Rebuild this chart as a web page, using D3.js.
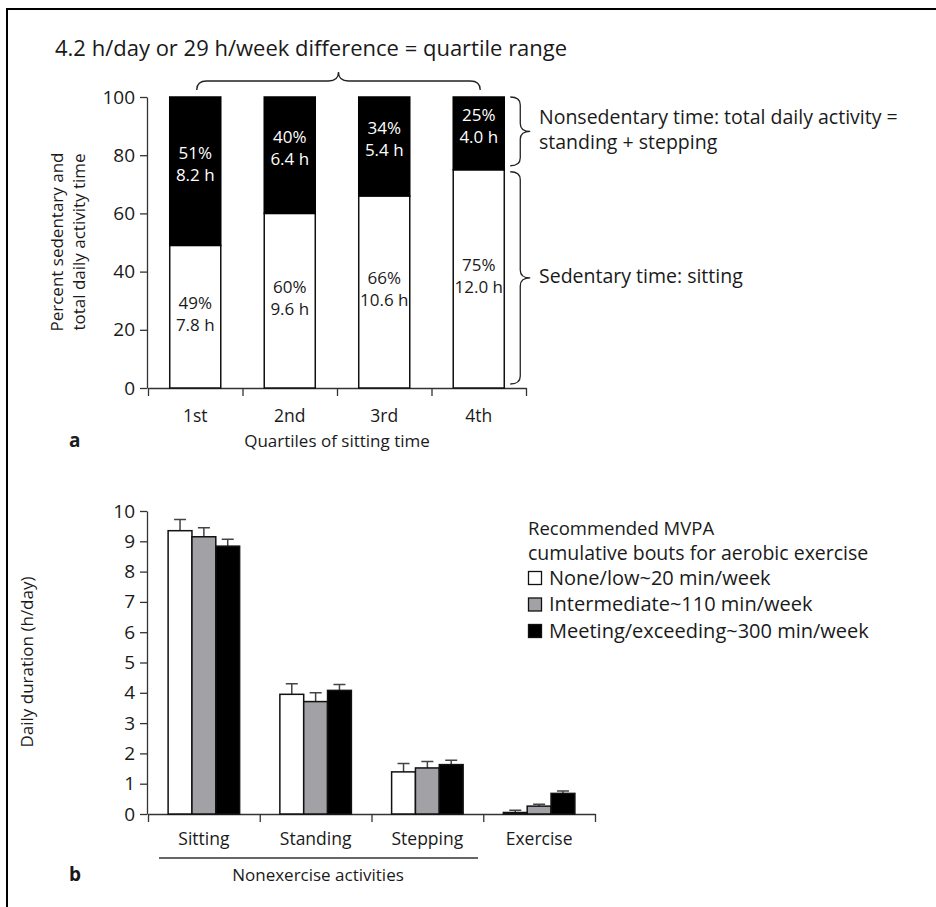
<!DOCTYPE html>
<html>
<head>
<meta charset="utf-8">
<script src="https://cdn.jsdelivr.net/npm/d3@7"></script>
<style>
  body { margin: 0; background: #fff; }
  svg text { font-family: "Open Sans", "Noto Sans", sans-serif; fill: #1a1a1a; }
</style>
</head>
<body>
<div id="chart"></div>
<script>
// panel a data
let quartiles = ["1st", "2nd", "3rd", "4th"];
let sittingPct = [49, 60, 66, 75];
let nonsedPct = [51, 40, 34, 25];
let sittingHours = ["7.8 h", "9.6 h", "10.6 h", "12.0 h"];
let nonsedHours = ["8.2 h", "6.4 h", "5.4 h", "4.0 h"];
let pctTicks = [0, 20, 40, 60, 80, 100];

// panel b data
let activities = ["Sitting", "Standing", "Stepping", "Exercise"];
let groups = ["None/low~20 min/week", "Intermediate~110 min/week", "Meeting/exceeding~300 min/week"];
let noneLow = [9.35, 3.95, 1.39, 0.05];
let intermediate = [9.15, 3.71, 1.52, 0.26];
let meeting = [8.84, 4.08, 1.63, 0.68];
let noneLowErr = [0.37, 0.35, 0.28, 0.07];
let intermediateErr = [0.30, 0.29, 0.21, 0.06];
let meetingErr = [0.23, 0.19, 0.14, 0.08];
let hourTicks = [0, 1, 2, 3, 4, 5, 6, 7, 8, 9, 10];

let fills = ["#ffffff", "#a2a2a6", "#000000"];
let fs = 17;      // axis/category text
let fsTick = 19;  // tick numbers
let fsNote = 19.5; // annotations, legend

let width = 936, height = 907;
let svg = d3.select("#chart").append("svg")
    .attr("width", width)
    .attr("height", height);

// frame (top + left edges only)
svg.append("path")
    .attr("d", "M7," + height + " L7,9 L" + width + ",9")
    .attr("fill", "none").attr("stroke", "#000").attr("stroke-width", 2);

// horizontal brace, tip up
function braceUp(x1, x2, yEnd, h) {
    let m = (x1 + x2) / 2, yl = yEnd - h / 2, yt = yEnd - h, r = 10;
    return `M${x1},${yEnd} Q${x1},${yl} ${x1 + r},${yl} L${m - r},${yl} Q${m},${yl} ${m},${yt}` +
        ` Q${m},${yl} ${m + r},${yl} L${x2 - r},${yl} Q${x2},${yl} ${x2},${yEnd}`;
}
// vertical brace, tip pointing right
function braceRight(y1, y2, xEnd, w) {
    let m = (y1 + y2) / 2, xl = xEnd + w / 2, xt = xEnd + w, r = 8;
    return `M${xEnd},${y1} Q${xl},${y1} ${xl},${y1 + r} L${xl},${m - r} Q${xl},${m} ${xt},${m}` +
        ` Q${xl},${m} ${xl},${m + r} L${xl},${y2 - r} Q${xl},${y2} ${xEnd},${y2}`;
}

/* ---------- panel a ---------- */
let yA = d3.scaleLinear().domain([0, 100]).range([388, 97]);
let xA = d3.scaleBand().domain(quartiles).range([148, 526]).paddingInner(0.46).paddingOuter(0.23);
let xATicks = d3.scaleLinear().domain([0, 4]).range([148, 526]);

let gA = svg.append("g");

gA.append("g")
    .attr("transform", "translate(147,0)")
    .call(d3.axisLeft(yA).tickValues(pctTicks).tickSize(7).tickSizeOuter(0))
    .call(g => g.selectAll("text").attr("font-size", fsTick).attr("font-family", null).attr("dx", "-2"))
    .call(g => g.selectAll("line,path").attr("stroke", "#333").attr("stroke-width", 1.3));

gA.append("g")
    .attr("transform", "translate(0,388)")
    .call(d3.axisBottom(xATicks).ticks(4).tickSize(8).tickSizeOuter(0).tickFormat(""))
    .call(g => g.selectAll("line,path").attr("stroke", "#333").attr("stroke-width", 1.3));

// sitting (white) segments
gA.selectAll(".sit").data(quartiles).enter().append("rect")
    .attr("x", d => xA(d))
    .attr("y", (d, i) => yA(sittingPct[i]))
    .attr("width", xA.bandwidth())
    .attr("height", (d, i) => yA(0) - yA(sittingPct[i]))
    .attr("fill", "#fff").attr("stroke", "#111").attr("stroke-width", 1.5);

// nonsedentary (black) segments
gA.selectAll(".non").data(quartiles).enter().append("rect")
    .attr("x", d => xA(d))
    .attr("y", yA(100))
    .attr("width", xA.bandwidth())
    .attr("height", (d, i) => yA(sittingPct[i]) - yA(100))
    .attr("fill", "#000").attr("stroke", "#000").attr("stroke-width", 1.5);

quartiles.forEach((q, i) => {
    let cx = xA(q) + xA.bandwidth() / 2;
    let cNon = (yA(100) + yA(sittingPct[i])) / 2 - 7;
    let cSit = (yA(sittingPct[i]) + yA(0)) / 2 - 3;
    [[nonsedPct[i] + "%", nonsedHours[i], cNon, "#fff"], [sittingPct[i] + "%", sittingHours[i], cSit, "#1a1a1a"]]
        .forEach(([l1, l2, cy, col]) => {
            gA.append("text").attr("x", cx).attr("y", cy - 5).attr("text-anchor", "middle")
                .attr("font-size", fs).style("fill", col).text(l1);
            gA.append("text").attr("x", cx).attr("y", cy + 17).attr("text-anchor", "middle")
                .attr("font-size", fs).style("fill", col).text(l2);
        });
    gA.append("text").attr("x", cx).attr("y", 422).attr("text-anchor", "middle")
        .attr("font-size", fs + 0.5).text(q);
});

gA.append("text").attr("x", 337).attr("y", 447).attr("text-anchor", "middle")
    .attr("font-size", fs).text("Quartiles of sitting time");
gA.append("text").attr("x", 69).attr("y", 447).attr("font-size", fs + 2)
    .attr("font-weight", "bold").text("a");

let labA = gA.append("text").attr("transform", "translate(68,242) rotate(-90)")
    .attr("text-anchor", "middle").attr("font-size", fs);
labA.append("tspan").attr("x", 0).attr("y", -5).text("Percent sedentary and");
labA.append("tspan").attr("x", 0).attr("y", 17).text("total daily activity time");

gA.append("text").attr("x", 55).attr("y", 56).attr("font-size", 22)
    .text("4.2 h/day or 29 h/week difference = quartile range");

gA.append("path").attr("d", braceUp(xA("1st") + 27, xA("4th") + 27, 90, 18))
    .attr("fill", "none").attr("stroke", "#222").attr("stroke-width", 1.3);

let braceX = xA("4th") + xA.bandwidth() + 6;
gA.append("path").attr("d", braceRight(yA(100), yA(sittingPct[3]) - 4, braceX, 20))
    .attr("fill", "none").attr("stroke", "#222").attr("stroke-width", 1.3);
gA.append("path").attr("d", braceRight(yA(sittingPct[3]) + 2, yA(0) - 4, braceX, 20))
    .attr("fill", "none").attr("stroke", "#222").attr("stroke-width", 1.3);

gA.append("text").attr("x", 539).attr("y", 124).attr("font-size", fsNote)
    .text("Nonsedentary time: total daily activity =");
gA.append("text").attr("x", 539).attr("y", 149).attr("font-size", fsNote)
    .text("standing + stepping");
gA.append("text").attr("x", 539).attr("y", 283).attr("font-size", fsNote).text("Sedentary time: sitting");

/* ---------- panel b ---------- */
let yB = d3.scaleLinear().domain([0, 10]).range([814, 511]);
let xB = d3.scaleBand().domain(activities).range([148, 595]).paddingInner(0.36).paddingOuter(0.18);
let xBTicks = d3.scaleLinear().domain([0, 4]).range([148, 595]);
let xSub = d3.scaleBand().domain(groups).range([0, xB.bandwidth()]);

let series = [noneLow, intermediate, meeting];
let errs = [noneLowErr, intermediateErr, meetingErr];

let gB = svg.append("g");

gB.append("g")
    .attr("transform", "translate(147,0)")
    .call(d3.axisLeft(yB).tickValues(hourTicks).tickSize(7).tickSizeOuter(0))
    .call(g => g.selectAll("text").attr("font-size", fsTick).attr("font-family", null).attr("dx", "-2"))
    .call(g => g.selectAll("line,path").attr("stroke", "#333").attr("stroke-width", 1.3));

gB.append("g")
    .attr("transform", "translate(0,814)")
    .call(d3.axisBottom(xBTicks).ticks(4).tickSize(8).tickSizeOuter(0).tickFormat(""))
    .call(g => g.selectAll("line,path").attr("stroke", "#333").attr("stroke-width", 1.3));

groups.forEach((grp, k) => {
    let vals = series[k], err = errs[k];
    let bx = (d) => xB(d) + xSub(grp);
    // error bars (upper only)
    gB.selectAll(".err" + k).data(activities).enter().append("path")
        .attr("d", (d, i) => {
            let cx = bx(d) + xSub.bandwidth() / 2;
            return `M${cx},${yB(vals[i])} L${cx},${yB(vals[i] + err[i])} M${cx - 6},${yB(vals[i] + err[i])} L${cx + 6},${yB(vals[i] + err[i])}`;
        })
        .attr("fill", "none").attr("stroke", "#444").attr("stroke-width", 1.5);
    gB.selectAll(".bar" + k).data(activities).enter().append("rect")
        .attr("x", d => bx(d))
        .attr("y", (d, i) => yB(vals[i]))
        .attr("width", xSub.bandwidth())
        .attr("height", (d, i) => yB(0) - yB(vals[i]))
        .attr("fill", fills[k]).attr("stroke", "#111").attr("stroke-width", 1.5);
});

activities.forEach(a => {
    gB.append("text").attr("x", xB(a) + xB.bandwidth() / 2).attr("y", 845)
        .attr("text-anchor", "middle").attr("font-size", fs + 0.5).text(a);
});

gB.append("line").attr("x1", 159).attr("x2", 478).attr("y1", 858).attr("y2", 858)
    .attr("stroke", "#333").attr("stroke-width", 1.3);
gB.append("text").attr("x", 318).attr("y", 881).attr("text-anchor", "middle")
    .attr("font-size", fs).text("Nonexercise activities");
gB.append("text").attr("x", 69).attr("y", 881).attr("font-size", fs + 2)
    .attr("font-weight", "bold").text("b");

gB.append("text").attr("transform", "translate(33,662) rotate(-90)")
    .attr("text-anchor", "middle").attr("font-size", fs).text("Daily duration (h/day)");

// legend
let lg = gB.append("g").attr("transform", "translate(528,0)");
lg.append("text").attr("x", 0).attr("y", 535).attr("font-size", fsNote - 1).text("Recommended MVPA");
lg.append("text").attr("x", 0).attr("y", 560).attr("font-size", fsNote).text("cumulative bouts for aerobic exercise");
groups.forEach((grp, k) => {
    let cy = 578 + k * 26.5;
    lg.append("rect").attr("x", 0.5).attr("y", cy - 6.5).attr("width", 13).attr("height", 13)
        .attr("fill", fills[k]).attr("stroke", "#111").attr("stroke-width", 1.3);
    lg.append("text").attr("x", 21).attr("y", cy + 6.5).attr("font-size", fsNote + 0.5).text(grp);
});
</script>
</body>
</html>
